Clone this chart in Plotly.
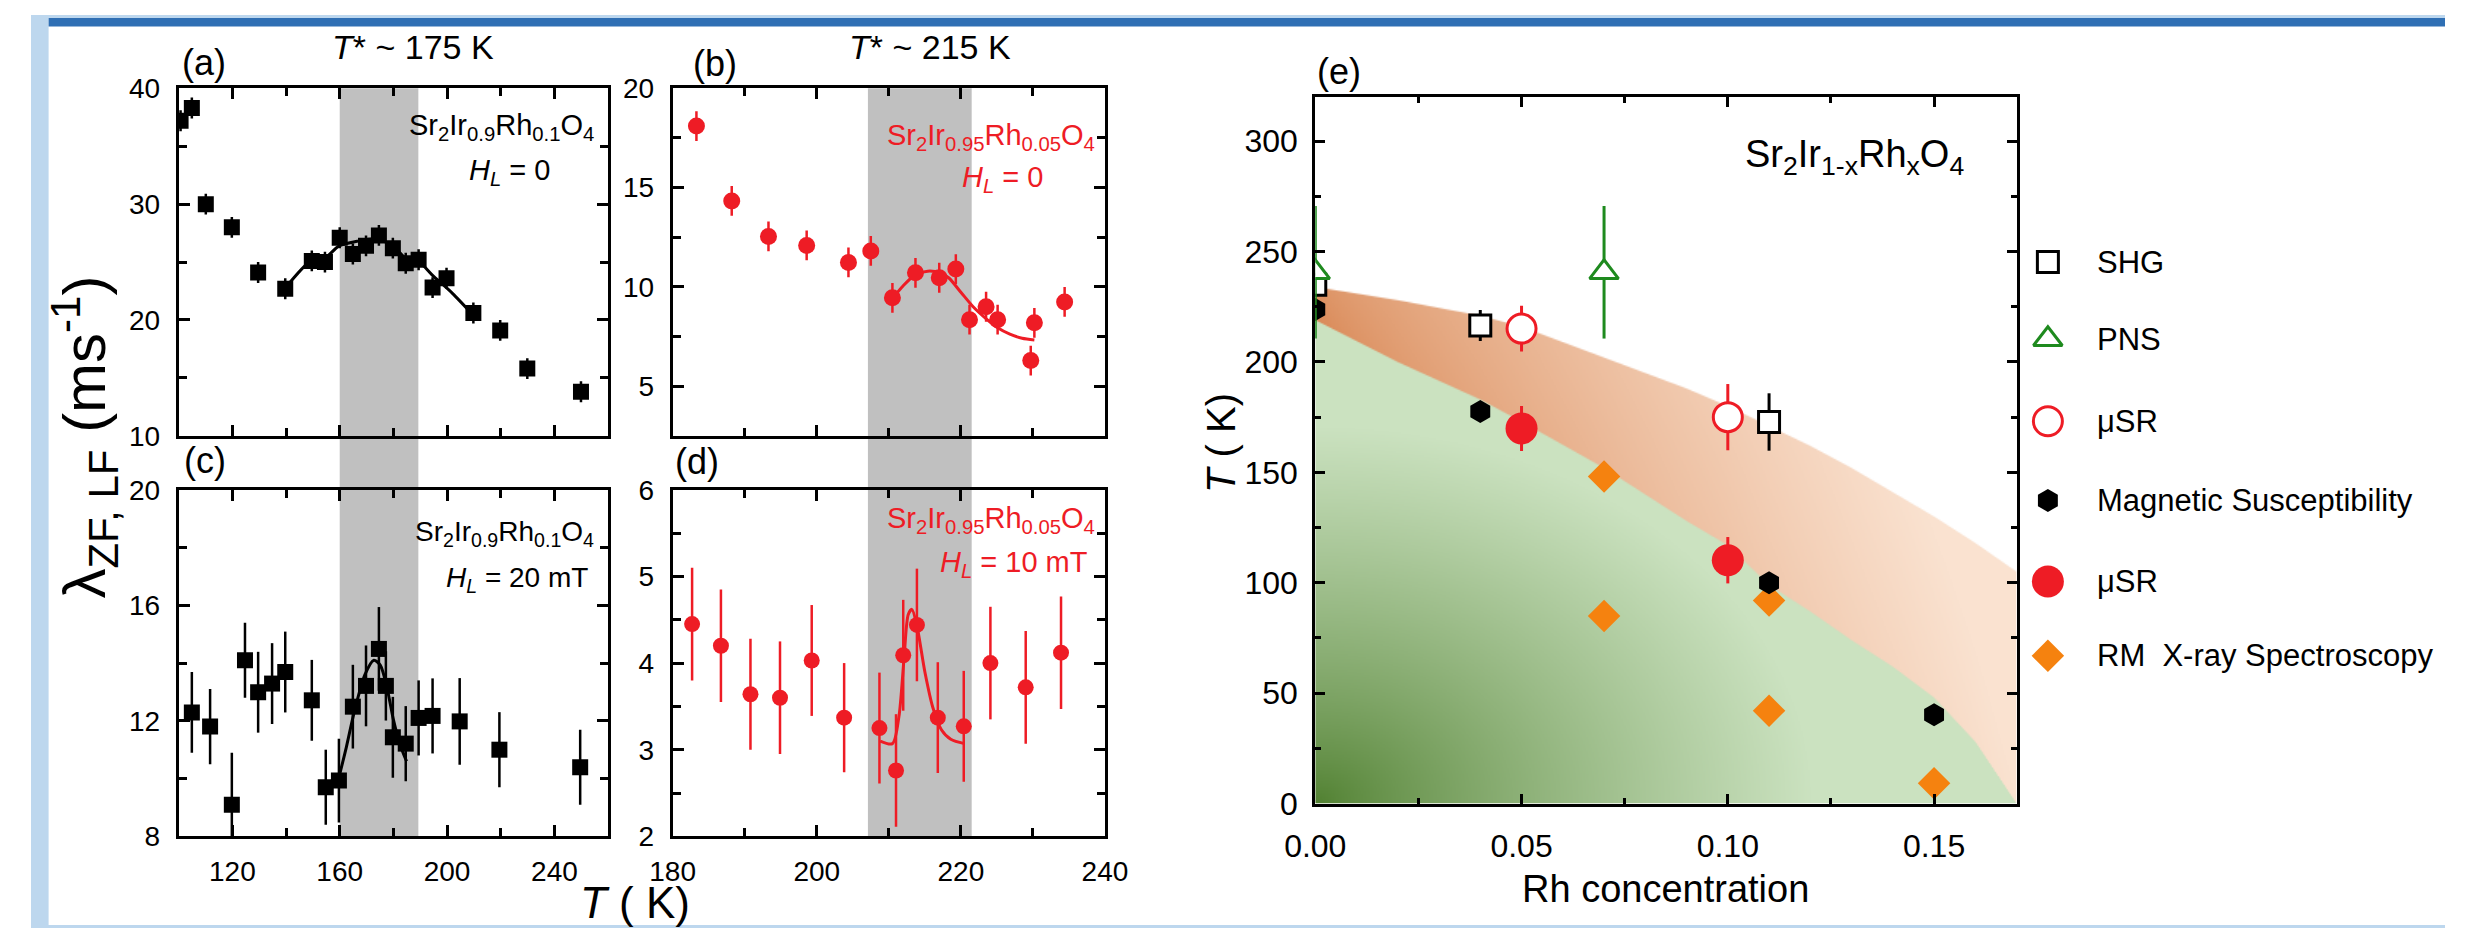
import base64
import struct
import zlib

import numpy as np
import plotly.graph_objects as go

W, H = 2468, 946
FONT = "Liberation Sans, Arial, sans-serif"
RED = "#ee1c25"
GREEN = "#1e8a1e"
ORANGE = "#f5820f"
FRAME = "#bdd7ee"

# ---------------- data ----------------
# panel (a): Sr2Ir0.9Rh0.1O4, H_L = 0
a_T = [100.7, 104.9, 110.1, 119.8, 129.6, 139.7, 149.6, 154.5, 160.0, 164.9, 169.8,
       174.6, 179.8, 184.6, 189.4, 194.6, 199.8, 209.8, 219.8, 229.9, 249.9]
a_L = [37.2, 38.3, 30.0, 28.0, 24.1, 22.7, 25.1, 25.0, 27.1, 25.7, 26.4,
       27.3, 26.2, 24.9, 25.2, 22.8, 23.6, 20.6, 19.1, 15.8, 13.8]
a_err = [0.9, 0.9, 0.9, 0.9, 0.9, 0.9, 0.9, 0.9, 0.9, 0.9, 0.9,
         0.9, 0.9, 0.9, 0.9, 0.9, 0.9, 0.9, 0.9, 0.9, 0.9]
a_fitT = [139.7, 149.3, 154.2, 159.8, 166.5, 173.8, 179.8, 184.7, 189.6, 194.4, 202.0, 209.8]
a_fitL = [22.75, 25.1, 25.3, 26.4, 26.8, 27.0, 26.4, 25.3, 25.0, 23.9, 22.3, 20.4]

# panel (c): Sr2Ir0.9Rh0.1O4, H_L = 20 mT
c_T = [104.9, 111.7, 119.8, 124.7, 129.6, 134.8, 139.7, 149.6, 154.8, 159.7, 164.9,
       169.8, 174.6, 177.2, 179.8, 184.6, 189.4, 194.6, 204.7, 219.5, 249.6]
c_L = [12.29, 11.80, 9.09, 14.10, 12.99, 13.29, 13.69, 12.71, 9.70, 9.93, 12.49,
       13.21, 14.49, 13.21, 11.43, 11.21, 12.10, 12.17, 11.98, 11.00, 10.39]
c_err = [1.4, 1.3, 1.8, 1.3, 1.4, 1.4, 1.4, 1.4, 1.3, 1.45, 1.45,
         1.4, 1.45, 1.2, 1.4, 1.3, 1.3, 1.3, 1.5, 1.3, 1.3]
c_fitT = [159.7, 162.5, 165.4, 169.4, 172.7, 175.1, 177.6, 180.0, 182.4, 184.9]
c_fitL = [10.04, 11.1, 12.3, 13.6, 14.1, 13.93, 13.15, 12.04, 11.2, 10.6]

# panel (b): Sr2Ir0.95Rh0.05O4, H_L = 0
b_T = [183.3, 188.2, 193.3, 198.6, 204.4, 207.5, 210.5, 213.7, 217.0, 219.3, 221.2,
       223.5, 225.1, 229.7, 230.2, 234.4]
b_L = [18.10, 14.33, 12.54, 12.09, 11.23, 11.81, 9.45, 10.71, 10.46, 10.90, 8.35,
       9.00, 8.35, 6.29, 8.19, 9.24]
b_err = [0.75, 0.75, 0.75, 0.75, 0.75, 0.75, 0.75, 0.75, 0.75, 0.75, 0.75,
         0.75, 0.75, 0.75, 0.75, 0.75]
b_fitT = [210.5, 212.0, 213.7, 215.4, 217.1, 218.3, 220.0, 221.7, 223.4, 225.1, 226.8, 228.5, 230.2]
b_fitL = [9.41, 10.06, 10.62, 10.79, 10.71, 10.46, 9.73, 9.0, 8.43, 7.94, 7.62, 7.41, 7.33]

# panel (d): Sr2Ir0.95Rh0.05O4, H_L = 10 mT
d_T = [182.7, 186.7, 190.8, 194.9, 199.3, 203.8, 208.7, 211.0, 212.0, 213.9, 216.8,
       220.4, 224.1, 229.0, 233.9]
d_L = [4.45, 4.20, 3.64, 3.60, 4.03, 3.37, 3.25, 2.76, 4.09, 4.44, 3.37,
       3.27, 4.00, 3.72, 4.12]
d_err = [0.65, 0.65, 0.64, 0.65, 0.64, 0.63, 0.64, 0.65, 0.64, 0.65, 0.64,
         0.64, 0.65, 0.65, 0.65]
d_fitT = [208.8, 210.5, 211.4, 212.1, 212.7, 213.2, 213.9, 215.0, 216.1, 217.3, 218.6, 220.5]
d_fitL = [3.10, 3.07, 3.38, 4.04, 4.56, 4.62, 4.43, 3.90, 3.49, 3.23, 3.12, 3.07]

# T* regions (grey bands)
band_ac = [160.0, 189.3]
band_bd = [207.1, 221.5]

# panel (e): phase diagram
shg_x = [0.0, 0.04, 0.11]
shg_T = [235.0, 216.5, 172.8]
shg_err = [0, 7, 13]
pns_x = [0.0, 0.07]
pns_T = [240.6, 240.6]
pns_err = [30, 30]
musr_open_x = [0.05, 0.10]
musr_open_T = [215.1, 175.0]
musr_open_err = [10.4, 15.0]
mag_x = [0.0, 0.04, 0.11, 0.15]
mag_T = [223.8, 177.6, 100.0, 40.2]
musr_fill_x = [0.05, 0.10]
musr_fill_T = [169.9, 110.2]
musr_fill_err = [10.2, 10.5]
rm_x = [0.07, 0.07, 0.11, 0.11, 0.15]
rm_T = [148.1, 84.9, 91.9, 42.0, 9.2]

# shaded phase regions of (e) (boundaries)
phase_x = [0.0, 0.02, 0.04, 0.05, 0.07, 0.09, 0.10, 0.11, 0.12, 0.13, 0.14, 0.15, 0.16, 0.17]
phase_upper = [234, 228, 221, 216, 202, 188, 180, 171, 162, 152, 141, 130, 118, 105]
phase_lower = [219, 200, 183, 173, 152, 128, 117, 99, 87, 74, 62, 48, 28, 0]

legend_names = ["SHG", "PNS", "μSR", "Magnetic Susceptibility", "μSR", "RM  X-ray Spectroscopy"]

# ---------------- helpers ----------------
def fx(px):
    return px / W


def fy(py):
    return 1 - py / H


E_X0, E_X1, E_Y0, E_Y1 = 1313, 2030, 85, 817
XMAX, TMAX = 0.17, 320.0


def png_uri(rgb):
    h, w, _ = rgb.shape
    raw = b"".join(b"\x00" + rgb[i].tobytes() for i in range(h))

    def chunk(tag, data):
        c = struct.pack(">I", len(data)) + tag + data
        return c + struct.pack(">I", zlib.crc32(tag + data) & 0xFFFFFFFF)

    png = (b"\x89PNG\r\n\x1a\n"
           + chunk(b"IHDR", struct.pack(">IIBBBBB", w, h, 8, 2, 0, 0, 0))
           + chunk(b"IDAT", zlib.compress(raw, 9))
           + chunk(b"IEND", b""))
    return "data:image/png;base64," + base64.b64encode(png).decode()


# gradient background for panel (e)
IW, IH = 480, 490
xs = (np.arange(IW) + 0.5) / IW * XMAX
ts = TMAX - (np.arange(IH) + 0.5) / IH * TMAX
X, TT = np.meshgrid(xs, ts)
UP = np.interp(X, phase_x, phase_upper)
LO = np.interp(X, phase_x, phase_lower)
pix = TMAX / IH
a_or = np.clip((UP - TT) / pix + 0.5, 0, 1)[..., None]
a_gr = np.clip((LO - TT) / pix + 0.5, 0, 1)[..., None]
frac = np.clip((TT - LO) / np.maximum(UP - LO, 1e-6), 0, 1)
t_or = np.clip((X / XMAX) ** 0.75 + 0.10 * frac, 0, 1)[..., None]
or_dark = np.array([218, 138, 88], float)
or_light = np.array([250, 226, 208], float)
orange_c = or_dark + (or_light - or_dark) * t_or
r = np.sqrt((X / 0.12) ** 2 + (TT / 170.0) ** 2)
t_gr = np.clip(r, 0, 1)[..., None] ** 0.8
gr_dark = np.array([80, 128, 48], float)
gr_light = np.array([203, 226, 192], float)
green_c = gr_dark + (gr_light - gr_dark) * t_gr
white = np.array([255, 255, 255], float)
img = white * (1 - a_or) + orange_c * a_or
img = img * (1 - a_gr) + green_c * a_gr
img = np.clip(img, 0, 255).astype(np.uint8)
img_uri = png_uri(img)

# ---------------- figure ----------------
fig = go.Figure()


def add_points(x, y, err, xa, ya, symbol, size, color, lcolor=None, lwidth=0, ecolor=None, ethick=2.5):
    kw = {}
    if err is not None:
        kw["error_y"] = dict(type="data", array=err, visible=True,
                             color=ecolor or color, thickness=ethick, width=0)
    fig.add_trace(go.Scatter(
        x=x, y=y, mode="markers", xaxis=xa, yaxis=ya, showlegend=False,
        marker=dict(symbol=symbol, size=size, color=color,
                    line=dict(color=lcolor or color, width=lwidth)), **kw))


def add_fit(x, y, xa, ya, color):
    fig.add_trace(go.Scatter(x=x, y=y, mode="lines", xaxis=xa, yaxis=ya, showlegend=False,
                             line=dict(color=color, width=3, shape="spline", smoothing=0.8)))


add_fit(a_fitT, a_fitL, "x", "y", "black")
add_points(a_T, a_L, a_err, "x", "y", "square", 16, "black")
add_fit(c_fitT, c_fitL, "x3", "y3", "black")
add_points(c_T, c_L, c_err, "x3", "y3", "square", 16, "black")
add_fit(b_fitT, b_fitL, "x2", "y2", RED)
add_points(b_T, b_L, b_err, "x2", "y2", "circle", 17, RED)
add_fit(d_fitT, d_fitL, "x4", "y4", RED)
add_points(d_T, d_L, d_err, "x4", "y4", "circle", 16, RED)

# panel (e)
add_points(rm_x, rm_T, None, "x5", "y5", "diamond", 25, ORANGE)
add_points(mag_x, mag_T, None, "x5", "y5", "hexagon", 23, "black")
add_points(musr_fill_x, musr_fill_T, musr_fill_err, "x5", "y5", "circle", 32, RED, ethick=3)
add_points(musr_open_x, musr_open_T, musr_open_err, "x5", "y5", "circle", 29, "white",
           lcolor=RED, lwidth=3, ecolor=RED, ethick=3)
add_points(shg_x, shg_T, shg_err, "x5", "y5", "square", 21, "white",
           lcolor="black", lwidth=3, ecolor="black", ethick=3)
add_points(pns_x, pns_T, pns_err, "x5", "y5", "triangle-up", 25, "white",
           lcolor=GREEN, lwidth=3, ecolor=GREEN, ethick=3)

# legend glyphs on a hidden, pixel-scaled axis
LEG_X0 = 2040
leg_px_x = 2062
leg_px_y = [256, 336, 421, 503, 587, 664]
leg_styles = [
    ("square", 21, "white", "black", 3),
    ("triangle-up", 25, "white", GREEN, 3),
    ("circle", 29, "white", RED, 3),
    ("hexagon", 23, "black", "black", 0),
    ("circle", 32, RED, RED, 0),
    ("diamond", 25, ORANGE, ORANGE, 0),
]
for py, (sym, sz, col, lcol, lw) in zip(leg_px_y, leg_styles):
    add_points([leg_px_x], [py], None, "x6", "y6", sym, sz, col, lcolor=lcol, lwidth=lw)

# ---------------- axes ----------------
def axis(fs=28, tl=11, mtl=8, mdt=None, **kw):
    d = dict(showline=True, linecolor="black", linewidth=3, mirror="allticks",
             ticks="inside", ticklen=tl, tickwidth=2.5, tickcolor="black",
             showgrid=False, zeroline=False,
             tickfont=dict(family=FONT, size=fs, color="black"))
    if mdt is not None:
        d["minor"] = dict(ticks="inside", ticklen=mtl, tickwidth=2.5, tickcolor="black",
                          dtick=mdt, showgrid=False)
    d.update(kw)
    return d


dom_x_ac = [fx(151), fx(590)]
dom_x_bd = [fx(656), fx(1098)]
dom_y_top = [fy(436), fy(76)]
dom_y_bot = [fy(851), fy(492)]

fig.update_layout(
    width=W, height=H, margin=dict(l=0, r=0, t=0, b=0),
    paper_bgcolor="white", plot_bgcolor="rgba(0,0,0,0)", showlegend=False,
    font=dict(family=FONT, color="black"),
    xaxis=axis(domain=dom_x_ac, anchor="y", range=[100, 260], tick0=120, dtick=40, mdt=20,
               showticklabels=False),
    yaxis=axis(domain=dom_y_top, anchor="x", range=[10, 40], tick0=10, dtick=10, mdt=5,
               ticklabelstandoff=10),
    xaxis3=axis(domain=dom_x_ac, anchor="y3", range=[100, 260], tick0=120, dtick=40, mdt=20,
                ticklabelstandoff=8),
    yaxis3=axis(domain=dom_y_bot, anchor="x3", range=[8, 20], tick0=8, dtick=4, mdt=2,
                ticklabelstandoff=10),
    xaxis2=axis(domain=dom_x_bd, anchor="y2", range=[180, 240], tick0=180, dtick=20, mdt=10,
                showticklabels=False),
    yaxis2=axis(domain=dom_y_top, anchor="x2", range=[2.5, 20], tick0=5, dtick=5, mdt=2.5,
                ticklabelstandoff=10),
    xaxis4=axis(domain=dom_x_bd, anchor="y4", range=[180, 240], tick0=180, dtick=20, mdt=10,
                ticklabelstandoff=8),
    yaxis4=axis(domain=dom_y_bot, anchor="x4", range=[2, 6], tick0=2, dtick=1, mdt=0.5,
                ticklabelstandoff=10),
    xaxis5=axis(fs=32, tl=10, mtl=6, domain=[fx(E_X0), fx(E_X1)], anchor="y5",
                range=[0, XMAX], tick0=0, dtick=0.05, mdt=0.025, tickformat=".2f",
                ticklabelstandoff=12),
    yaxis5=axis(fs=32, tl=10, mtl=6, domain=[fy(E_Y1), fy(E_Y0)], anchor="x5",
                range=[0, TMAX], tick0=0, dtick=50, mdt=25, ticklabelstandoff=8),
    xaxis6=dict(domain=[fx(LEG_X0), 1], anchor="y6", range=[LEG_X0, W], visible=False,
                fixedrange=True),
    yaxis6=dict(domain=[0, 1], anchor="x6", range=[H, 0], visible=False, fixedrange=True),
)

fig.add_layout_image(dict(source=img_uri, xref="x5", yref="y5", x=0, y=TMAX,
                          sizex=XMAX, sizey=TMAX, xanchor="left", yanchor="top",
                          sizing="stretch", layer="below"))

shapes = [
    # slide frame: left strip, top strip, title rule, bottom strip
    dict(type="rect", xref="paper", yref="paper", x0=0, x1=fx(18), y0=0, y1=1,
         fillcolor=FRAME, line=dict(width=0), layer="below"),
    dict(type="rect", xref="paper", yref="paper", x0=0, x1=1, y0=fy(3), y1=1,
         fillcolor=FRAME, line=dict(width=0), layer="below"),
    dict(type="rect", xref="paper", yref="paper", x0=0, x1=1, y0=0, y1=fy(943),
         fillcolor=FRAME, line=dict(width=0), layer="below"),
    dict(type="rect", xref="paper", yref="paper", x0=fx(18), x1=1, y0=fy(12), y1=fy(3),
         fillcolor="#2f6fb4", line=dict(width=0), layer="below"),
    dict(type="rect", xref="x", yref="paper", x0=band_ac[0], x1=band_ac[1],
         y0=fy(851), y1=fy(76), fillcolor="#c0c0c0", line=dict(width=0), layer="below"),
    dict(type="rect", xref="x2", yref="paper", x0=band_bd[0], x1=band_bd[1],
         y0=fy(851), y1=fy(76), fillcolor="#c0c0c0", line=dict(width=0), layer="below"),
]
fig.update_layout(shapes=shapes)


def ann(text, x, y, size, xanchor="center", color="black", angle=0):
    fig.add_annotation(text=text, x=fx(x), y=fy(y), xref="paper", yref="paper",
                       xanchor=xanchor, yanchor="middle", showarrow=False, textangle=angle,
                       font=dict(family=FONT, size=size, color=color))


ann("λ<sub>ZF, LF</sub> (ms<sup>-1</sup>)", 55, 437, 60, angle=-90)
ann("<i>T</i> ( K)", 618, 920, 44)
ann("(a)", 152, 49, 36, xanchor="left")
ann("(b)", 675, 50, 36, xanchor="left")
ann("(c)", 154, 462, 36, xanchor="left")
ann("(d)", 656, 463, 36, xanchor="left")
ann("(e)", 1313, 59, 36, xanchor="left")
ann("<i>T</i>* ~ 175 K", 391, 33, 34)
ann("<i>T</i>* ~ 215 K", 919, 33, 34)
ann("Sr<sub>2</sub>Ir<sub>0.9</sub>Rh<sub>0.1</sub>O<sub>4</sub>", 578, 116, 29, xanchor="right")
ann("<i>H<sub>L</sub></i> = 0", 533, 163, 29, xanchor="right")
ann("Sr<sub>2</sub>Ir<sub>0.9</sub>Rh<sub>0.1</sub>O<sub>4</sub>", 578, 537, 28, xanchor="right")
ann("<i>H<sub>L</sub></i> = 20 mT", 571, 585, 28, xanchor="right")
ann("Sr<sub>2</sub>Ir<sub>0.95</sub>Rh<sub>0.05</sub>O<sub>4</sub>", 1090, 126, 29,
    xanchor="right", color=RED)
ann("<i>H<sub>L</sub></i> = 0", 1037, 170, 29, xanchor="right", color=RED)
ann("Sr<sub>2</sub>Ir<sub>0.95</sub>Rh<sub>0.05</sub>O<sub>4</sub>", 1090, 523, 29,
    xanchor="right", color=RED)
ann("<i>H<sub>L</sub></i> = 10 mT", 1083, 569, 29, xanchor="right", color=RED)
ann("Sr<sub>2</sub>Ir<sub>1-x</sub>Rh<sub>x</sub>O<sub>4</sub>", 1978, 147, 38, xanchor="right")
ann("<i>T</i> ( K)", 1216, 443, 40, angle=-90)
ann("Rh concentration", 1671, 906, 38)
for py, name in zip(leg_px_y, legend_names):
    ann(name, 2110, py, 31, xanchor="left")

fig.write_html("out.html")
